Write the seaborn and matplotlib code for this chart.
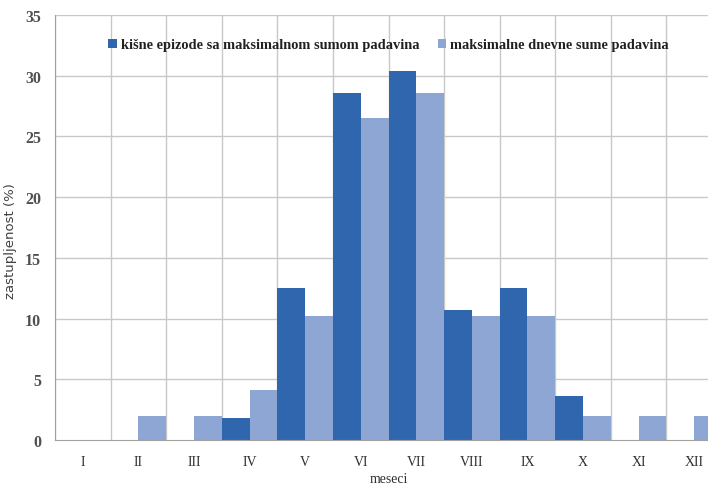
import matplotlib
matplotlib.use("Agg")
import matplotlib.pyplot as plt
import seaborn as sns
import pandas as pd

months = ["I", "II", "III", "IV", "V", "VI", "VII", "VIII", "IX", "X", "XI", "XII"]
episodes = [0, 0, 0, 1.8, 12.5, 28.6, 30.4, 10.7, 12.5, 3.6, 0, 0]
daily_max = [0, 2.0, 2.0, 4.1, 10.2, 26.5, 28.6, 10.2, 10.2, 2.0, 2.0, 2.0]
series_names = ["kišne epizode sa maksimalnom sumom padavina",
                "maksimalne dnevne sume padavina"]
colors = ["#2F66AE", "#8DA6D4"]

df = pd.DataFrame({
    "mesec": months * 2,
    "vrednost": episodes + daily_max,
    "serija": [series_names[0]] * 12 + [series_names[1]] * 12,
})

sns.set_style("white")
serif = ["Liberation Serif", "DejaVu Serif"]
plt.rcParams["font.family"] = serif

fig = plt.figure(figsize=(7.08, 4.85), dpi=100)
ax = fig.add_axes([55 / 708, 44 / 485, 667 / 708, 425 / 485])

sns.barplot(data=df, x="mesec", y="vrednost", hue="serija", order=months,
            hue_order=series_names, palette=colors, width=1.0, gap=0,
            edgecolor="none", linewidth=0, ax=ax, saturation=1)

ax.set_xlim(-0.5, 11.5)
ax.set_ylim(0, 35)
ax.set_yticks(range(0, 36, 5))
ax.set_xticks(range(12))
ax.set_xticklabels(months)
ax.grid(False)
for k in range(13):
    ax.axvline(k - 0.5, color="#C8C8C8", lw=1.0, zorder=0)
for v in range(5, 36, 5):
    ax.axhline(v, color="#C8C8C8", lw=1.0, zorder=0)
ax.set_axisbelow(True)

for s in ["top", "right"]:
    ax.spines[s].set_visible(False)
ax.spines["left"].set_color("#A0A0A0")
ax.spines["bottom"].set_color("#A0A0A0")

ax.tick_params(axis="y", length=0, pad=10, labelsize=11.5, labelcolor="#505050")
ax.tick_params(axis="x", length=0, pad=11, labelsize=10, labelcolor="#303030")
for t in ax.get_yticklabels():
    t.set_fontweight("bold")

ax.set_xlabel("meseci", fontsize=10, color="#303030", labelpad=3)
ax.set_ylabel("zastupljenost (%)", fontsize=9.5, color="#404040",
              family=["DejaVu Sans"])
ax.yaxis.set_label_coords(-0.057, 0.47)

leg = ax.legend(loc="center", bbox_to_anchor=(0.5, 0.93), ncol=2, frameon=False,
                fontsize=10.4, handlelength=0.6, handleheight=0.6,
                handletextpad=0.25, columnspacing=1.3)
for t in leg.get_texts():
    t.set_fontweight("bold")
    t.set_color("#202020")

fig.savefig("out.png", dpi=100)
